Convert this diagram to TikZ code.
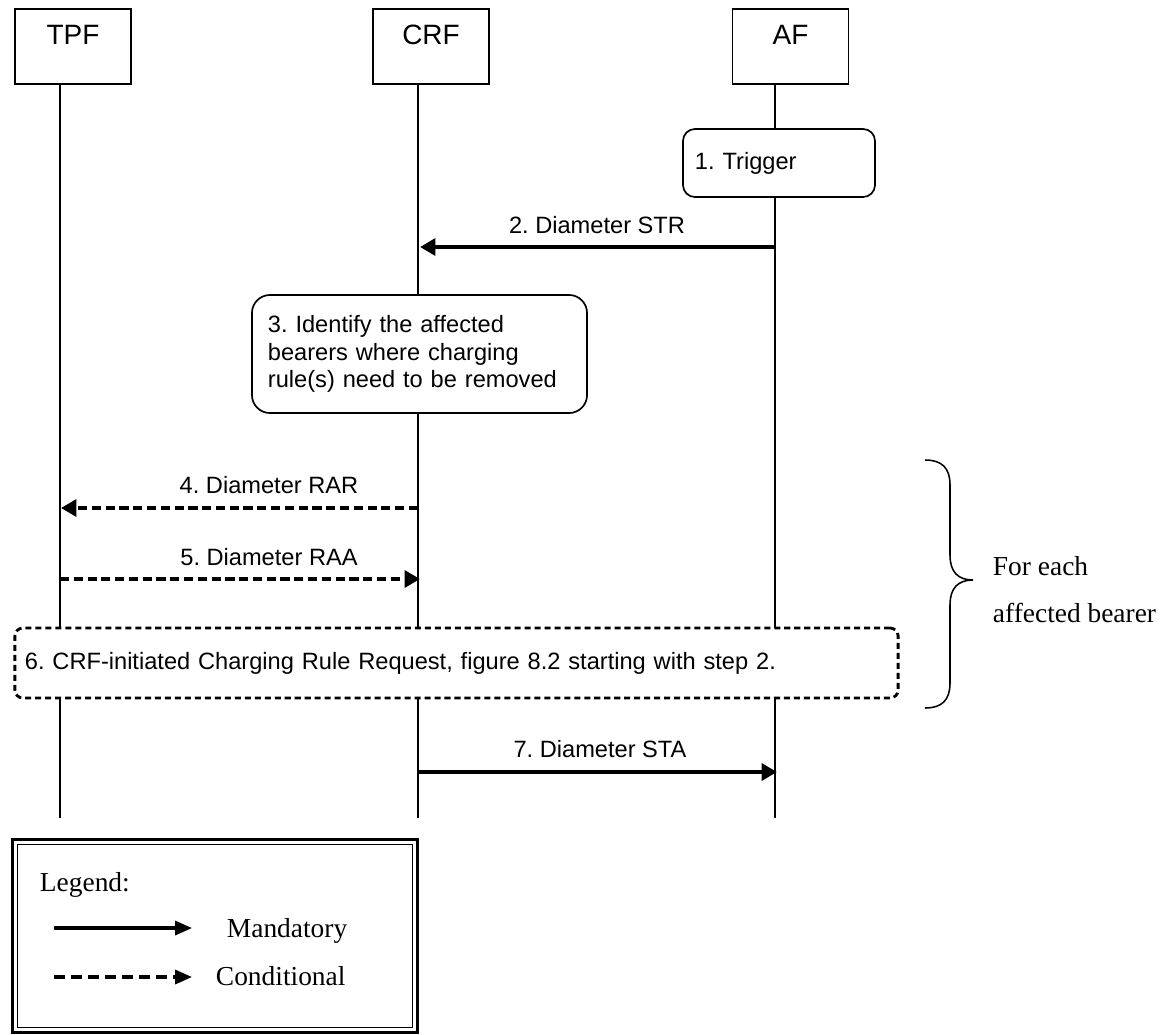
\documentclass[tikz,border=0pt]{standalone}
\usepackage{fontspec}
\setmainfont{Liberation Serif}
\newfontfamily\arialfont{Liberation Sans}
\usetikzlibrary{arrows.meta,positioning,calc}
\frenchspacing

\begin{document}
\begin{tikzpicture}[x=0.025cm, y=-0.025cm,
  entity/.style={rectangle,draw,line width=1.2pt,minimum width=2.9cm,inner ysep=0pt,text height=0.875cm,text depth=1cm,font=\arialfont\fontsize{19.9}{22}\selectfont},
  lifeline/.style={line width=1.1pt},
  stepbox/.style={rectangle,draw,fill=white,line width=1.2pt,align=left,font=\arialfont\fontsize{16.8}{19.6}\selectfont},
  msglabel/.style={anchor=base,font=\arialfont\fontsize{16.8}{20}\selectfont},
  mandatory/.style={line width=3pt,-{Triangle[length=11pt,width=12pt]}},
  conditional/.style={mandatory,dash pattern=on 6.5pt off 3.3pt},
  legendtext/.style={anchor=base west,font=\fontsize{19.5}{23}\selectfont},
  legendmand/.style={line width=2.2pt,-{Triangle[length=12pt,width=10pt]}},
  legendcond/.style={legendmand,dash pattern=on 7.5pt off 4.6pt}]
\useasboundingbox (0,0) rectangle (1162,1034);

% entities
\node[entity, name=tpf] at (73,46.5) {TPF};
\node[entity, name=crf] at (431,46.5) {CRF};
\node[entity, name=af] at (790.5,46.5) {AF};

% lifelines
\coordinate (tpf_end) at (60,818);
\coordinate (crf_end) at (418,818);
\coordinate (af_end) at (775,818);
\draw[lifeline] (tpf.south -| tpf_end) -- (tpf_end);
\draw[lifeline] (crf.south -| crf_end) -- (crf_end);
\draw[lifeline] (af.south -| af_end) -- (af_end);

% 1. trigger
\node[stepbox, rounded corners=0.3cm, minimum width=4.8cm, minimum height=1.7cm, text width=4.2cm, inner xsep=0.3cm, name=trigger] at (779,163) {1. Trigger};

% 2. STR
\coordinate (str_from) at (775,247);
\coordinate (str_to) at (420,247);
\draw[mandatory] (str_from) -- (str_to);
\node[msglabel, name=str_lbl] at (597,233) {2. Diameter STR};

% 3. identify bearers
\node[stepbox, rounded corners=0.45cm, minimum width=8.375cm, minimum height=2.95cm, text width=7.575cm, inner xsep=0.4cm, name=identify] at (419.5,354) {3. Identify the affected\\bearers where charging\\rule(s) need to be removed};

% 4. RAR
\coordinate (rar_from) at (418,508);
\coordinate (rar_to) at (61,508);
\draw[conditional] (rar_from) -- (rar_to);
\node[msglabel, name=rar_lbl] at (269,493) {4. Diameter RAR};

% 5. RAA
\coordinate (raa_from) at (60,579);
\coordinate (raa_to) at (420,579);
\draw[conditional] (raa_from) -- (raa_to);
\node[msglabel, name=raa_lbl] at (269,565) {5. Diameter RAA};

% 6. charging rule request
\node[stepbox, dash pattern=on 4.3pt off 2.8pt, line width=2pt, rounded corners=0.2cm, minimum width=22.075cm, minimum height=1.75cm, text width=21.575cm, inner xsep=0.25cm, name=request] at (456.5,663) {6. CRF-initiated Charging Rule Request, figure 8.2 starting with step 2.};

% 7. STA
\coordinate (sta_from) at (418,772);
\coordinate (sta_to) at (777,772);
\draw[mandatory] (sta_from) -- (sta_to);
\node[msglabel, name=sta_lbl] at (600,757) {7. Diameter STA};

% brace
\draw[line width=1.1pt] (925,460) .. controls (942,460) and (950,468) .. (950,485) -- (950,555)
  .. controls (950,572) and (958,580) .. (973,580)
  .. controls (958,580) and (950,588) .. (950,605) -- (950,683)
  .. controls (950,700) and (942,708) .. (925,708);
\node[legendtext, name=each] at (988,575) {For each};
\node[legendtext, name=bearer] at (988,622) {affected bearer};

% legend
\draw[line width=2.4pt] (12.5,839.5) rectangle (417.5,1032.5);
\draw[line width=1.1pt] (17.5,844.5) rectangle (412.5,1027.5);
\node[legendtext, name=legend] at (35,891) {Legend:};
\coordinate (mand_from) at (54,928);
\coordinate (mand_to) at (192,928);
\draw[legendmand] (mand_from) -- (mand_to);
\node[legendtext, name=mand_lbl] at (222,937) {Mandatory};
\coordinate (cond_from) at (54,977);
\coordinate (cond_to) at (192,977);
\draw[legendcond] (cond_from) -- (cond_to);
\node[legendtext, name=cond_lbl] at (211,985) {Conditional};
\end{tikzpicture}
\end{document}
